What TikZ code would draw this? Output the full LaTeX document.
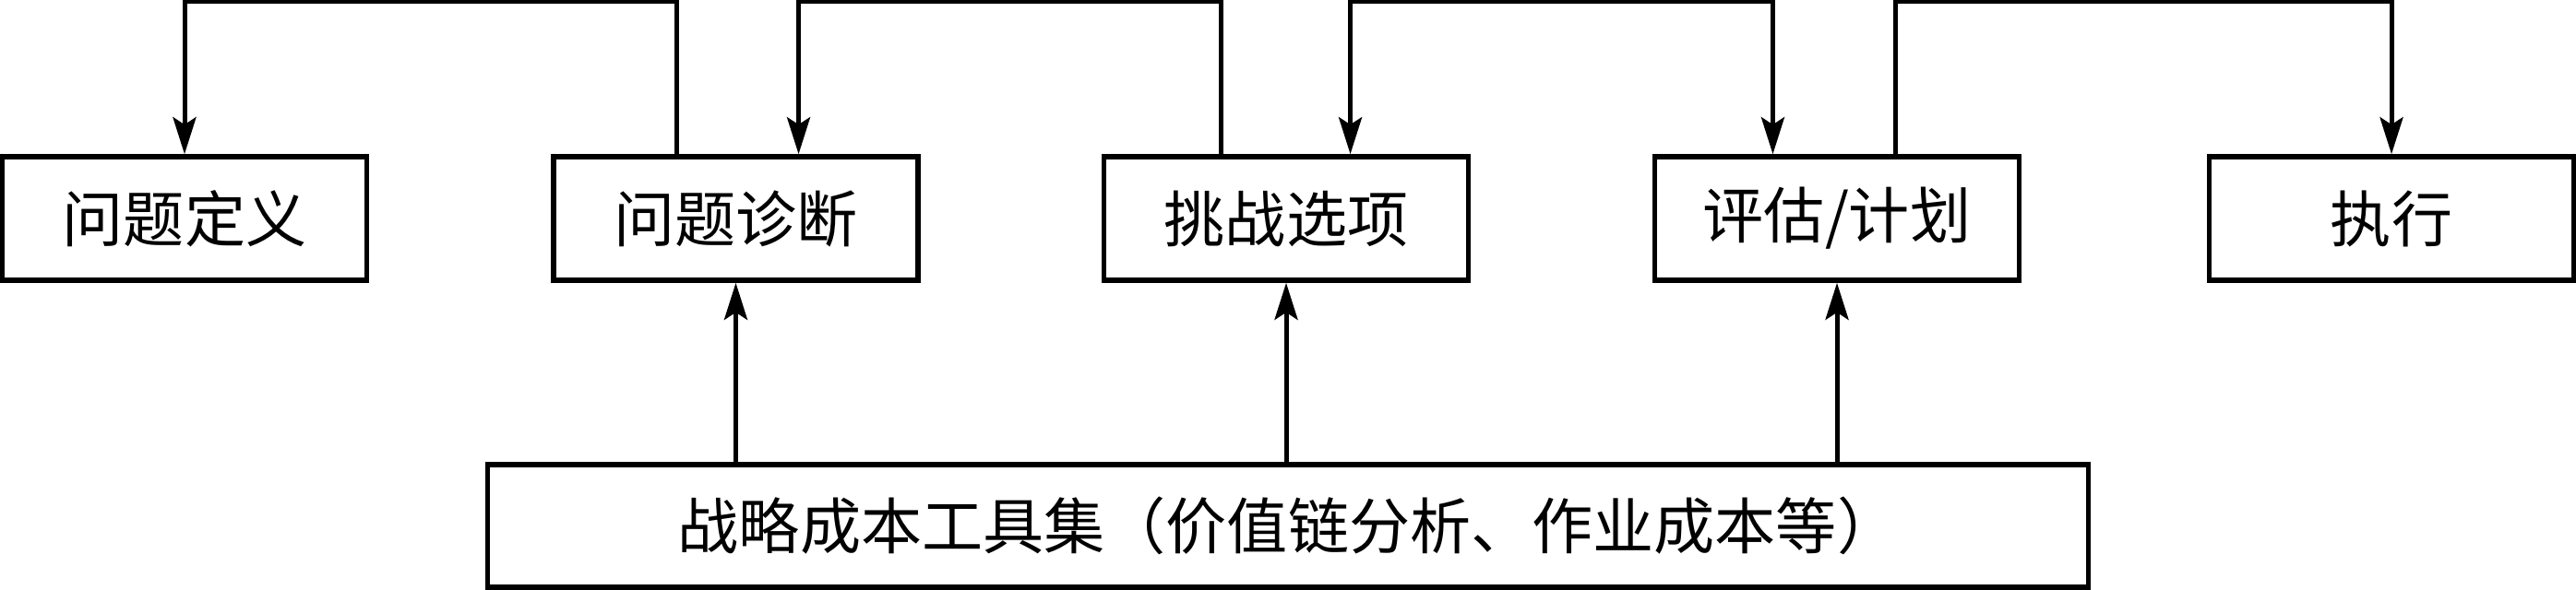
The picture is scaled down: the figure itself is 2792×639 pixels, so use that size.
\documentclass[tikz,border=0pt]{standalone}
\usepackage{fontspec}
\newfontfamily\cjk{Noto Sans CJK SC}
\usetikzlibrary{arrows.meta}
\tikzset{
  stepbox/.style={draw=black, line width=0.055cm, minimum width=3.95cm, minimum height=1.34cm, inner sep=0pt, font=\cjk\fontsize{18.8pt}{22pt}\selectfont},
  toolbox/.style={stepbox, minimum width=17.34cm, minimum height=1.33cm},
  conn/.style={line width=0.05cm, -{Stealth[length=0.40cm, width=0.25cm, inset=0.08cm]}},
  connboth/.style={line width=0.05cm, {Stealth[length=0.40cm, width=0.25cm, inset=0.08cm]}-{Stealth[length=0.40cm, width=0.25cm, inset=0.08cm]}}
}
\begin{document}
\begin{tikzpicture}[x=0.01cm, y=-0.01cm]
\useasboundingbox (0,0) rectangle (2792,639);
\node[stepbox] (b1) at (200,237) {问题定义};
\node[stepbox] (b2) at (797.5,237) {问题诊断};
\node[stepbox] (b3) at (1394,237) {挑战选项};
\node[stepbox] (b4) at (1991,237) {评估/计划};
\node[stepbox] (b5) at (2592,237) {执行};
\node[toolbox] (tools) at (1396,570.5) {战略成本工具集（价值链分析、作业成本等）};
% top connectors (top line at y = 4, i.e. 1.66cm above box tops)
\draw[conn] ([xshift=-0.64cm]b2.north) -- ++(0,1.66cm) -| (b1.north);
\draw[conn] ([xshift=-0.70cm]b3.north) -- ++(0,1.66cm) -| ([xshift=0.68cm]b2.north);
\draw[connboth] ([xshift=0.695cm]b3.north) -- ++(0,1.66cm) -| ([xshift=-0.695cm]b4.north);
\draw[conn] ([xshift=0.635cm]b4.north) -- ++(0,1.66cm) -| (b5.north);
% bottom connectors
\draw[conn] (b2.south |- tools.north) -- (b2.south);
\draw[conn] (b3.south |- tools.north) -- (b3.south);
\draw[conn] (b4.south |- tools.north) -- (b4.south);
\end{tikzpicture}
\end{document}
